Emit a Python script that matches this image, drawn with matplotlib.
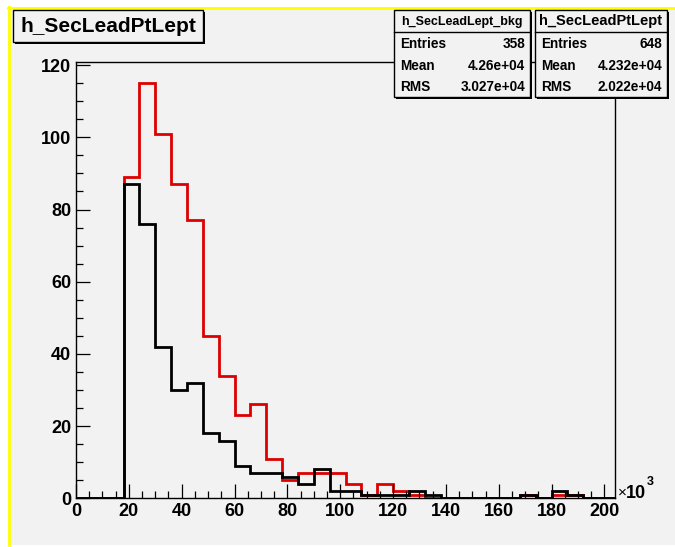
import numpy as np
import matplotlib
matplotlib.use("Agg")
import matplotlib.pyplot as plt
from matplotlib.patches import Rectangle
from matplotlib.lines import Line2D

# ---- data (x in units of 10^3) ----
bin_edges = list(range(0, 205, 6))
sig_counts = [0, 0, 0, 89, 115, 101, 87, 77, 45, 34, 23, 26, 11, 5, 7, 7, 7, 4,
              1, 4, 2, 1, 0, 0, 0, 0, 0, 0, 1, 0, 1, 1, 0, 0]
bkg_counts = [0, 0, 0, 87, 76, 42, 30, 32, 18, 16, 9, 7, 7, 6, 4, 8, 2, 2,
              1, 1, 1, 2, 1, 0, 0, 0, 0, 0, 1, 0, 2, 1, 0, 0]
x_ticks = [0, 20, 40, 60, 80, 100, 120, 140, 160, 180, 200]
y_ticks = [0, 20, 40, 60, 80, 100, 120]
title = "h_SecLeadPtLept"
bkg_stats = ("h_SecLeadLept_bkg", [("Entries", "358"), ("Mean", "4.26e+04"), ("RMS", "3.027e+04")])
sig_stats = ("h_SecLeadPtLept", [("Entries", "648"), ("Mean", "4.232e+04"), ("RMS", "2.022e+04")])

plt.rcParams['font.family'] = ['Liberation Sans', 'DejaVu Sans']
plt.rcParams['font.weight'] = 'bold'

W, H = 675, 547
fig = plt.figure(figsize=(W / 100, H / 100), dpi=100, facecolor='white')
GREY = '#f2f2f2'

def fx(x):
    return x / W

def fy(y):
    return 1 - y / H

def rect(x0, y0, x1, y1, **kw):
    r = Rectangle((fx(x0), fy(y1)), (x1 - x0) / W, (y1 - y0) / H,
                  transform=fig.transFigure, **kw)
    fig.add_artist(r)
    return r

def hline(x0, x1, y, **kw):
    fig.add_artist(Line2D([fx(x0), fx(x1)], [fy(y), fy(y)], transform=fig.transFigure, **kw))

def vline(x, y0, y1, **kw):
    fig.add_artist(Line2D([fx(x), fx(x)], [fy(y0), fy(y1)], transform=fig.transFigure, **kw))

# canvas background with yellow border
rect(8, 7, 676, 545, facecolor=GREY, edgecolor='none', zorder=-10)
hline(8, 676, 7.5, color='#ffff00', lw=2, zorder=-9)
vline(8.5, 7, 545, color='#ffff00', lw=2, zorder=-9)

L, R, B, T = 76, 615, 498.3, 62.4
ax = fig.add_axes([fx(L), fy(B), (R - L) / W, (B - T) / H])
ax.set_facecolor(GREY)

ax.stairs(sig_counts, bin_edges, baseline=0, color='#dd0000', lw=2)
ax.stairs(bkg_counts, bin_edges, baseline=0, color='black', lw=2)

ax.set_xlim(0, 204)
ax.set_ylim(0, 120.75)
ax.set_xticks(x_ticks)
ax.set_yticks(y_ticks)
ax.set_xticks(np.arange(0, 205, 5), minor=True)
ax.set_yticks(np.arange(0, 121, 5), minor=True)
ax.tick_params(which='major', direction='in', length=10, width=0.9,
               top=False, right=False, pad=3.5)
ax.tick_params(which='minor', direction='in', length=5, width=0.9, top=False, right=False)
for lab in ax.get_xticklabels() + ax.get_yticklabels():
    lab.set_fontweight('bold')
    lab.set_fontsize(13)
for s in ax.spines.values():
    s.set_linewidth(1.0)

fig.text(fx(618), fy(497), "\u00d7", fontsize=11, ha='left', va='baseline', fontweight='normal')
fig.text(fx(626), fy(498), "10", fontsize=13, fontweight='bold', ha='left', va='baseline')
fig.text(fx(647), fy(485), "3", fontsize=9, fontweight='bold', ha='left', va='baseline')

def box(x0, y0, x1, y1):
    rect(x0 + 2, y0 + 2, x1 + 2, y1 + 2, facecolor='black', edgecolor='none', zorder=5)
    rect(x0, y0, x1, y1, facecolor=GREY, edgecolor='black', lw=1, zorder=6)

# title box
box(13, 10, 203, 42)
fig.text(fx(108), fy(27), title, fontsize=15, fontweight='bold', ha='center', va='center', zorder=7)

def statbox(x0, x1, stats, hsize):
    name, rows = stats
    box(x0, 10, x1, 97)
    hline(x0, x1, 32, color='black', lw=1, zorder=7)
    fig.text(fx((x0 + x1) / 2), fy(21.5), name, fontsize=hsize, fontweight='bold',
             ha='center', va='center', zorder=7)
    for i, (k, v) in enumerate(rows):
        y = 44 + 21.5 * i
        fig.text(fx(x0 + 6), fy(y), k, fontsize=9.8, fontweight='bold', ha='left', va='center', zorder=7)
        fig.text(fx(x1 - 5), fy(y), v, fontsize=9.8, fontweight='bold', ha='right', va='center', zorder=7)

statbox(394, 530, bkg_stats, 9)
statbox(535, 667, sig_stats, 10.5)

fig.savefig("out.png", dpi=100, facecolor='white')
